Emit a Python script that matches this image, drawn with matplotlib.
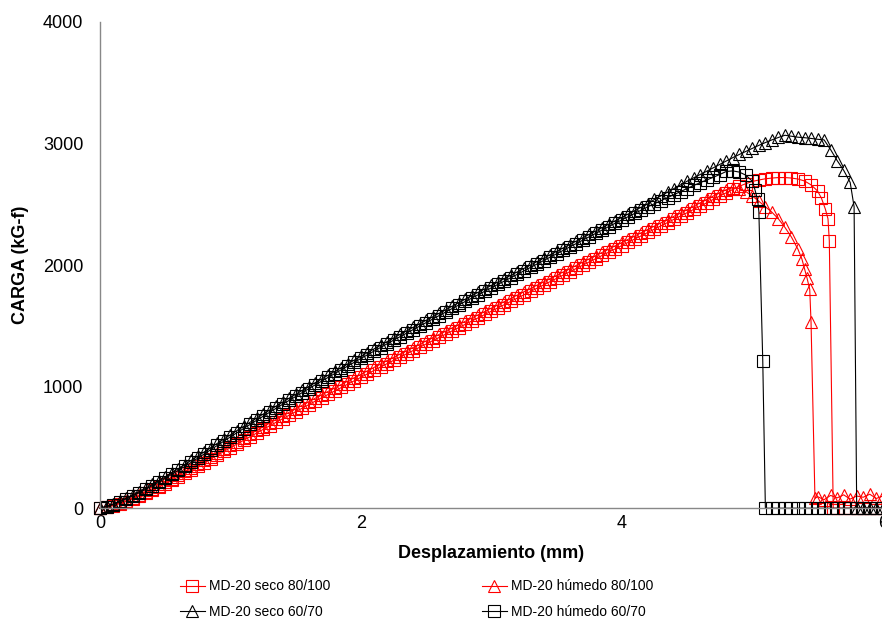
import matplotlib
matplotlib.use('Agg')
import matplotlib.pyplot as plt

plt.rcParams['font.family'] = ['Liberation Sans', 'DejaVu Sans']

# displacement grid shared by the rising part of every test (mm)
disp_base = [0.00, 0.05, 0.10, 0.15, 0.20, 0.25, 0.30, 0.35, 0.40, 0.45,
             0.50, 0.55, 0.60, 0.65, 0.70, 0.75, 0.80, 0.85, 0.90, 0.95,
             1.00, 1.05, 1.10, 1.15, 1.20, 1.25, 1.30, 1.35, 1.40, 1.45,
             1.50, 1.55, 1.60, 1.65, 1.70, 1.75, 1.80, 1.85, 1.90, 1.95,
             2.00, 2.05, 2.10, 2.15, 2.20, 2.25, 2.30, 2.35, 2.40, 2.45,
             2.50, 2.55, 2.60, 2.65, 2.70, 2.75, 2.80, 2.85, 2.90, 2.95,
             3.00, 3.05, 3.10, 3.15, 3.20, 3.25, 3.30, 3.35, 3.40, 3.45,
             3.50, 3.55, 3.60, 3.65, 3.70, 3.75, 3.80, 3.85, 3.90, 3.95,
             4.00, 4.05, 4.10, 4.15, 4.20, 4.25, 4.30, 4.35, 4.40, 4.45,
             4.50]

# MD-20 seco 80/100 (red squares)
seco80_load = [0, 8, 21, 37, 55, 76, 99, 123, 148, 174,
               201, 229, 257, 286, 315, 345, 375, 405, 436, 467,
               498, 528, 558, 588, 618, 648, 678, 707, 736, 765,
               794, 823, 852, 881, 909, 937, 965, 993, 1021, 1049,
               1077, 1105, 1133, 1161, 1189, 1216, 1243, 1270, 1297, 1324,
               1351, 1378, 1405, 1432, 1459, 1486, 1513, 1540, 1567, 1594,
               1621, 1648, 1675, 1702, 1729, 1756, 1783, 1810, 1837, 1864,
               1891, 1918, 1945, 1972, 1999, 2026, 2053, 2080, 2107, 2134,
               2161, 2188, 2215, 2242, 2269, 2296, 2323, 2350, 2377, 2404,
               2431]
seco80_tail_x = [4.55, 4.60, 4.65, 4.70, 4.75, 4.80, 4.85, 4.90, 4.95, 5.00,
                 5.05, 5.10, 5.15, 5.20, 5.25, 5.30, 5.35, 5.40, 5.45, 5.50,
                 5.53, 5.56, 5.58, 5.59, 5.62, 5.65, 5.70, 5.75, 5.80, 5.85,
                 5.90, 5.95, 6.00]
seco80_tail_y = [2458, 2485, 2512, 2540, 2568, 2595, 2622, 2648, 2670, 2688,
                 2700, 2710, 2716, 2720, 2720, 2716, 2708, 2692, 2660, 2610,
                 2550, 2460, 2380, 2200, 0, 0, 0, 0, 0, 0,
                 0, 0, 0]

# MD-20 humedo 80/100 (red triangles)
hum80_load = [0, 10, 25, 42, 62, 84, 108, 133, 159, 186,
              214, 243, 272, 302, 332, 362, 393, 424, 455, 486,
              517, 548, 579, 610, 640, 670, 700, 730, 760, 789,
              818, 847, 876, 905, 934, 962, 990, 1018, 1046, 1074,
              1102, 1130, 1158, 1186, 1214, 1241, 1268, 1295, 1322, 1349,
              1376, 1403, 1430, 1457, 1484, 1511, 1538, 1565, 1592, 1619,
              1646, 1673, 1700, 1727, 1754, 1781, 1808, 1835, 1862, 1889,
              1916, 1943, 1970, 1997, 2024, 2051, 2078, 2105, 2132, 2159,
              2186, 2213, 2240, 2267, 2294, 2321, 2348, 2375, 2402, 2429,
              2456]
hum80_tail_x = [4.55, 4.60, 4.65, 4.70, 4.75, 4.80, 4.85, 4.90, 4.95, 5.00,
                5.05, 5.10, 5.15, 5.20, 5.25, 5.30, 5.35, 5.38, 5.40, 5.42,
                5.44, 5.45, 5.48, 5.50, 5.55, 5.60, 5.65, 5.70, 5.75, 5.80,
                5.85, 5.90, 5.95, 6.00]
hum80_tail_y = [2485, 2512, 2540, 2568, 2596, 2620, 2638, 2630, 2605, 2568,
                2525, 2480, 2435, 2380, 2310, 2230, 2130, 2050, 1970, 1890,
                1800, 1530, 80, 95, 70, 105, 85, 110, 75, 100,
                90, 115, 80, 100]

# MD-20 seco 60/70 (black triangles)
seco60_load = [0, 15, 35, 58, 82, 108, 136, 165, 195, 226,
               258, 291, 325, 359, 394, 429, 464, 499, 534, 569,
               604, 639, 673, 707, 741, 774, 807, 840, 873, 905,
               937, 969, 1001, 1033, 1064, 1095, 1126, 1157, 1188, 1219,
               1250, 1280, 1310, 1340, 1370, 1400, 1430, 1459, 1488, 1517,
               1546, 1575, 1604, 1633, 1662, 1691, 1720, 1749, 1777, 1805,
               1833, 1861, 1889, 1917, 1945, 1973, 2001, 2029, 2057, 2085,
               2113, 2141, 2169, 2197, 2225, 2253, 2281, 2309, 2337, 2365,
               2393, 2421, 2449, 2477, 2505, 2540, 2570, 2600, 2630, 2660,
               2690]
seco60_tail_x = [4.55, 4.60, 4.65, 4.70, 4.75, 4.80, 4.85, 4.90, 4.95, 5.00,
                 5.05, 5.10, 5.15, 5.20, 5.25, 5.30, 5.35, 5.40, 5.45, 5.50,
                 5.55, 5.60, 5.65, 5.70, 5.75, 5.78, 5.80, 5.85, 5.90, 5.95,
                 6.00]
seco60_tail_y = [2718, 2745, 2772, 2800, 2828, 2856, 2884, 2910, 2935, 2960,
                 2985, 3008, 3030, 3050, 3068, 3060, 3052, 3048, 3042, 3035,
                 3030, 2950, 2860, 2780, 2680, 2480, 0, 0, 0, 0,
                 0]

# MD-20 humedo 60/70 (black squares)
hum60_load = [0, 12, 30, 52, 76, 101, 128, 156, 185, 215,
              246, 278, 311, 344, 378, 412, 447, 482, 517, 552,
              587, 621, 655, 689, 723, 756, 789, 822, 855, 887,
              919, 951, 983, 1015, 1046, 1077, 1108, 1139, 1170, 1201,
              1232, 1262, 1292, 1322, 1352, 1382, 1411, 1440, 1469, 1498,
              1527, 1556, 1585, 1614, 1643, 1672, 1701, 1729, 1757, 1785,
              1813, 1841, 1869, 1897, 1925, 1953, 1981, 2009, 2037, 2065,
              2093, 2121, 2149, 2177, 2205, 2233, 2261, 2289, 2317, 2345,
              2372, 2399, 2426, 2453, 2480, 2505, 2530, 2555, 2580, 2605,
              2630]
hum60_tail_x = [4.55, 4.60, 4.65, 4.70, 4.75, 4.80, 4.85, 4.90, 4.95, 5.00,
                5.02, 5.04, 5.05, 5.08, 5.10, 5.15, 5.20, 5.25, 5.30, 5.35,
                5.40, 5.45, 5.50, 5.55, 5.60, 5.65, 5.70, 5.75, 5.80, 5.85,
                5.90, 5.95, 6.00]
hum60_tail_y = [2655, 2678, 2700, 2722, 2745, 2770, 2775, 2765, 2740, 2690,
                2620, 2540, 2440, 1210, 0, 0, 0, 0, 0, 0,
                0, 0, 0, 0, 0, 0, 0, 0, 0, 0,
                0, 0, 0]

fig = plt.figure(figsize=(8.82, 6.19), dpi=100)
ax = fig.add_axes([0.1134, 0.179, 0.8875, 0.7855])

common = dict(lw=0.8, ms=8, mew=0.8, mfc='none', clip_on=False)
l1, = ax.plot(disp_base + seco80_tail_x, seco80_load + seco80_tail_y,
              color='#ff0000', marker='s', label='MD-20 seco 80/100', **common)
l2, = ax.plot(disp_base + hum80_tail_x, hum80_load + hum80_tail_y,
              color='#ff0000', marker='^', label='MD-20 húmedo 80/100', **common)
l3, = ax.plot(disp_base + seco60_tail_x, seco60_load + seco60_tail_y,
              color='black', marker='^', label='MD-20 seco 60/70', **common)
l4, = ax.plot(disp_base + hum60_tail_x, hum60_load + hum60_tail_y,
              color='black', marker='s', label='MD-20 húmedo 60/70', **common)

ax.set_xlim(0, 6)
ax.set_ylim(0, 4000)
ax.set_xticks([0, 2, 4, 6])
ax.set_yticks([0, 1000, 2000, 3000, 4000])
ax.tick_params(length=0, labelsize=13)
ax.tick_params(axis='y', pad=12)
ax.tick_params(axis='x', pad=5)
for s in ['top', 'right']:
    ax.spines[s].set_visible(False)
for s in ['left', 'bottom']:
    ax.spines[s].set_color('#888888')
    ax.spines[s].set_linewidth(1)

ax.set_xlabel('Desplazamiento (mm)', fontsize=13, fontweight='bold', labelpad=9)
ax.set_ylabel('CARGA (kG-f)', fontsize=13, fontweight='bold', labelpad=10)

fig.legend(handles=[l1, l3, l2, l4], ncol=2, loc='upper left',
           bbox_to_anchor=(0.204, 0.064), frameon=False, fontsize=10,
           handlelength=1.8, handletextpad=0.3, columnspacing=10.9,
           labelspacing=0.85, borderaxespad=0, borderpad=0)

plt.savefig('out.png', dpi=100)
